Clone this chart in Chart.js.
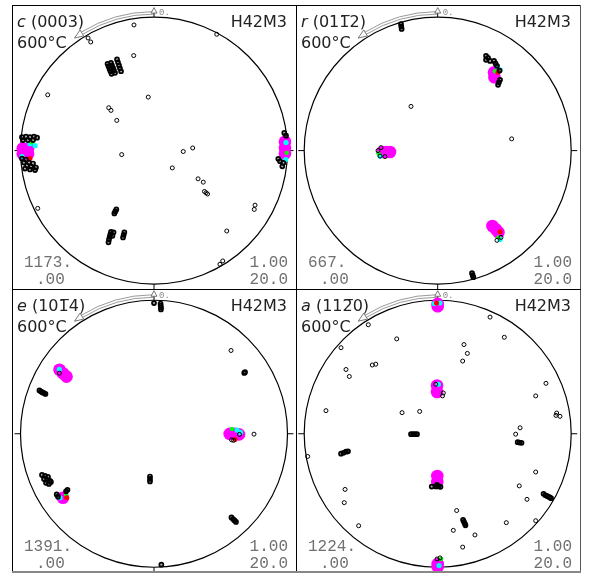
<!DOCTYPE html>
<html><head><meta charset="utf-8">
<script src="https://cdn.jsdelivr.net/npm/chart.js@4.4.1/dist/chart.umd.min.js"></script>
<style>
html,body{margin:0;padding:0;background:#fff;width:593px;height:578px;overflow:hidden}
#wrap{position:relative;width:593px;height:578px}
canvas{position:absolute}
.ln{position:absolute;background:#000}
</style></head><body>
<div id="wrap">
<canvas id="p0" width="284" height="284" style="left:12px;top:6px"></canvas>
<canvas id="p1" width="284" height="284" style="left:296px;top:6px"></canvas>
<canvas id="p2" width="284" height="282" style="left:12px;top:290px"></canvas>
<canvas id="p3" width="284" height="282" style="left:296px;top:290px"></canvas>
<div class="ln" style="left:12px;top:5px;width:569px;height:1px"></div>
<div class="ln" style="left:12px;top:5px;width:1px;height:568px"></div>
<div class="ln" style="left:296px;top:5px;width:1px;height:568px"></div>
<div class="ln" style="left:580px;top:5px;width:1px;height:568px;background:#555"></div>
<div class="ln" style="left:12px;top:289px;width:569px;height:1px"></div>
<div class="ln" style="left:12px;top:571px;width:569px;height:2px;background:#888"></div>
</div>
<script>
// ---- text ----
const planeLetters = ['c', 'r', 'e', 'a'];
const planeIndices = ['(0003)', '(011\u03052)', '(101\u03054)', '(112\u03050)'];
const sampleName = 'H42M3';
const tempLabel = '600°C';
const maxLabels = ['1173.', '667.', '1391.', '1224.'];
const minLabel = '.00';
const scaleTopLabel = '1.00';
const scaleBottomLabel = '20.0';
const azimuthLabel = '0.';

// ---- data: projected pole positions (unit circle) ----
const c0003Points = [
[-0.150,0.944],[0.470,0.874],[-0.494,0.846],[-0.474,0.816],[-0.152,0.714],
[-0.796,0.419],[-0.043,0.402],[-0.339,0.322],[-0.322,0.302],[-0.279,0.227],
[-0.242,-0.030],[0.219,-0.007],[0.290,0.020],[0.137,-0.130],[0.330,-0.212],
[0.369,-0.237],[0.378,-0.307],[0.390,-0.317],[0.401,-0.326],[0.757,-0.410],
[0.751,-0.442],[-0.871,-0.434],[0.545,-0.604],[0.515,-0.829],[0.494,-0.854]
];
const c0003Streaks = [
[-0.348,0.652],[-0.341,0.633],[-0.333,0.614],[-0.326,0.596],[-0.318,0.577],
[-0.322,0.659],[-0.315,0.640],[-0.307,0.622],[-0.300,0.603],[-0.292,0.584],
[-0.277,0.685],[-0.270,0.663],[-0.262,0.640],[-0.255,0.618],[-0.247,0.596],
[-0.282,-0.442],[-0.290,-0.457],[-0.297,-0.472],
[-0.322,-0.610],[-0.327,-0.629],[-0.332,-0.648],[-0.337,-0.667],[-0.341,-0.689],
[-0.303,-0.614],[-0.311,-0.640],
[-0.222,-0.614],[-0.227,-0.633],[-0.232,-0.652],
[-0.989,0.101],[-0.959,0.105],[-0.929,0.101],[-0.899,0.105],[-0.876,0.097],
[-0.981,0.079],[-0.944,0.079],[-0.906,0.079],
[-0.989,-0.060],[-0.959,-0.067],[-0.974,-0.090],[-0.936,-0.090],[-0.906,-0.097],
[-0.951,-0.112],[-0.921,-0.120],[-0.884,-0.127],[-0.966,-0.135],[-0.929,-0.142],[-0.891,-0.146],
[0.976,0.133],[0.989,0.112],[0.931,-0.062],[0.944,-0.080],[0.969,-0.092],[0.961,-0.118]
];
const c0003Magenta = [[-0.963,-0.004],[-0.983,0.016],[-0.943,0.016],[-0.983,-0.024],[-0.943,-0.024],[0.981,0.067],[0.981,0.022],[0.981,-0.022]];
const c0003Cyan = [[-0.929,0.052],[-0.989,-0.045],[-0.891,0.037],[0.989,0.060],[0.987,-0.067]];
const c0003Green = [[-0.916,0.062],[0.994,-0.017]];
const c0003Red = [[-0.929,-0.060]];

const r0112Points = [
[-0.200,0.332],[0.554,0.088],
[-0.447,0.000],[-0.425,0.022],[-0.432,-0.041],[-0.395,-0.045],
[0.474,-0.652],[0.444,-0.674]
];
const r0112Streaks = [
[-0.275,0.951],[-0.273,0.933],[-0.270,0.914],
[0.257,-0.921],[0.262,-0.936],[0.267,-0.951],
[0.362,0.712],[0.377,0.697],[0.362,0.682],[0.392,0.674],
[0.422,0.674],[0.433,0.655],[0.444,0.637],
[0.467,0.532],[0.459,0.513],[0.452,0.494],[0.464,0.601]
];
const r0112Magenta = [[0.422,0.588],[0.425,0.551],[-0.413,-0.011],[-0.387,-0.011],[-0.357,-0.011],[0.410,-0.566],[0.437,-0.592],[0.455,-0.614]];
const r0112Cyan = [[0.444,0.633],[0.467,0.607],[-0.432,-0.041],[0.467,-0.667]];
const r0112Green = [[0.429,0.596],[-0.443,-0.022],[0.455,-0.652]];
const r0112Red = [[0.452,0.588],[0.467,-0.610]];

const e1014Points = [
[0.577,0.631],[-0.709,0.459],
[0.640,-0.005],[0.581,-0.046],[0.596,-0.050],
[0.749,-0.003]
];
const e1014Streaks = [
[0.000,0.990],[0.049,0.987],[0.050,0.972],[0.052,0.957],[0.052,0.942],
[0.676,0.461],[0.682,0.467],
[-0.858,0.328],[-0.846,0.320],[-0.835,0.313],[-0.824,0.309],[-0.813,0.302],
[-0.839,-0.312],[-0.816,-0.320],[-0.794,-0.327],[-0.824,-0.342],[-0.801,-0.350],[-0.779,-0.357],[-0.809,-0.372],[-0.787,-0.380],[-0.772,-0.365],
[-0.030,-0.324],[-0.030,-0.342],[-0.030,-0.361],
[-0.729,-0.460],[-0.719,-0.477],[-0.659,-0.436],[-0.648,-0.425],
[0.580,-0.634],[0.592,-0.646],[0.603,-0.657],[0.614,-0.668],
[0.055,-0.992]
];
const e1014Magenta = [[-0.708,0.485],[-0.682,0.459],[-0.655,0.433],[0.567,-0.001],[0.607,-0.001],[0.637,-0.005],[-0.682,-0.485]];
const e1014Cyan = [[-0.709,0.489],[0.622,0.028],[0.648,0.010],[-0.704,-0.485]];
const e1014Green = [[0.584,0.036],[-0.659,-0.462]];
const e1014Red = [[0.607,-0.043],[-0.654,-0.485]];

const a1120Points = [
[0.392,0.884],[-0.520,0.826],[0.499,0.731],[-0.307,0.719],[-0.724,0.652],
[0.197,0.676],[0.222,0.609],[0.187,0.551],[-0.490,0.521],[-0.464,0.527],
[-0.687,0.487],[-0.662,0.434],[0.811,0.382],[0.734,0.287],[-0.837,0.175],
[-0.267,0.160],[-0.135,0.169],[0.891,0.157],[0.916,0.132],[0.886,0.139],
[0.617,0.045],[0.584,-0.003],
[-0.974,-0.172],[0.734,-0.290],[-0.694,-0.422],[0.611,-0.395],
[-0.700,-0.522],[0.669,-0.497],[0.142,-0.582],
[0.514,-0.674],[0.734,-0.659],[-0.592,-0.697],[0.117,-0.732],[0.279,-0.767],[0.187,-0.859],
[0.042,0.309],[0.036,0.287],[-0.015,0.375],
[0.017,-0.941],[-0.005,-0.949]
];
const a1120Streaks = [
[-0.200,-0.003],[-0.185,-0.003],[-0.170,-0.003],[-0.155,-0.003],
[0.599,-0.064],[0.613,-0.067],[0.628,-0.069],
[-0.724,-0.151],[-0.706,-0.144],[-0.687,-0.136],[-0.672,-0.133],
[0.793,-0.455],[0.807,-0.466],[0.822,-0.473],[0.837,-0.481],[0.849,-0.488],
[0.190,-0.653],[0.197,-0.668],[0.204,-0.683],[0.208,-0.694],
[-0.015,-0.399],[0.006,-0.399],[0.021,-0.402],[-0.045,-0.400],[-0.005,-0.387]
];
const a1120Magenta = [[0,0.966],[0,0.984],[-0.005,0.366],[-0.005,0.317],[-0.003,-0.320],[-0.003,-0.365],[0,-0.987],[0,-1.009]];
const a1120Cyan = [[0.017,0.991],[-0.025,0.987],[0.005,0.375],[0.010,-0.999]];
const a1120Green = [[0.025,-0.949]];
const a1120Red = [[-0.009,0.991]];

// ---- assemble ----
const panels = [
  {id:'p0', pts:c0003Points, str:c0003Streaks, mag:c0003Magenta, cyan:c0003Cyan, green:c0003Green, red:c0003Red, pad:{left:8.5,right:8.5,top:11.5,bottom:5.5}},
  {id:'p1', pts:r0112Points, str:r0112Streaks, mag:r0112Magenta, cyan:r0112Cyan, green:r0112Green, red:r0112Red, pad:{left:8.2,right:8.8,top:11.5,bottom:5.5}},
  {id:'p2', pts:e1014Points, str:e1014Streaks, mag:e1014Magenta, cyan:e1014Cyan, green:e1014Green, red:e1014Red, pad:{left:8.5,right:8.5,top:11.8,bottom:3.2}},
  {id:'p3', pts:a1120Points, str:a1120Streaks, mag:a1120Magenta, cyan:a1120Cyan, green:a1120Green, red:a1120Red, pad:{left:8.2,right:8.8,top:11.8,bottom:3.2}}
];

const stereoPlugin = {
  id: 'stereo',
  beforeDatasetsDraw(chart) {
    const ctx = chart.ctx, xs = chart.scales.x, ys = chart.scales.y;
    const cx = xs.getPixelForValue(0), cy = ys.getPixelForValue(0);
    const r = xs.getPixelForValue(1) - cx;
    ctx.save();
    ctx.strokeStyle = '#000'; ctx.lineWidth = 1.2;
    ctx.beginPath(); ctx.arc(cx, cy, r, 0, Math.PI * 2); ctx.stroke();
    ctx.lineWidth = 1;
    ctx.beginPath();
    ctx.moveTo(cx - r - 6, cy); ctx.lineTo(cx - r, cy);
    ctx.moveTo(cx + r, cy); ctx.lineTo(cx + r + 6, cy);
    ctx.moveTo(cx, cy + r); ctx.lineTo(cx, cy + r + 6);
    ctx.moveTo(cx, cy - r); ctx.lineTo(cx, cy - r - 4);
    ctx.stroke();
    // azimuth arc arrow
    const a0 = -Math.PI / 2, a1 = -Math.PI / 2 - 0.55;
    ctx.strokeStyle = '#555'; ctx.lineWidth = 0.6;
    ctx.beginPath(); ctx.arc(cx, cy, r + 3, a0, a1, true); ctx.stroke();
    ctx.beginPath(); ctx.arc(cx, cy, r + 5.5, a0 - 0.01, a1, true); ctx.stroke();
    const tipA = a1 - 0.065, rm = r + 4.3;
    ctx.lineWidth = 0.8;
    ctx.beginPath();
    ctx.moveTo(cx + rm * Math.cos(tipA), cy + rm * Math.sin(tipA));
    ctx.lineTo(cx + (r + 1) * Math.cos(a1), cy + (r + 1) * Math.sin(a1));
    ctx.lineTo(cx + (r + 8) * Math.cos(a1), cy + (r + 8) * Math.sin(a1));
    ctx.closePath();
    ctx.fillStyle = '#fff'; ctx.fill(); ctx.stroke();
    // north triangle
    ctx.beginPath();
    ctx.moveTo(cx, cy - r - 9.5);
    ctx.lineTo(cx - 3, cy - r - 4);
    ctx.lineTo(cx + 3, cy - r - 4);
    ctx.closePath();
    ctx.fill(); ctx.stroke();
    ctx.fillStyle = '#888';
    ctx.font = '9px "Liberation Mono"';
    ctx.textBaseline = 'alphabetic'; ctx.textAlign = 'left';
    ctx.fillText(azimuthLabel, cx + 5, cy - r - 2.5);
    ctx.restore();
  },
  afterDraw(chart) {
    const ctx = chart.ctx, i = chart.options.plugins.stereo.index;
    const W = chart.width;
    ctx.save();
    ctx.fillStyle = '#222'; ctx.textBaseline = 'alphabetic'; ctx.textAlign = 'left';
    ctx.font = 'italic 16px "DejaVu Sans"';
    ctx.fillText(planeLetters[i], 5, 21);
    const w = ctx.measureText(planeLetters[i]).width;
    ctx.font = '16px "DejaVu Sans"';
    ctx.fillText(' ' + planeIndices[i], 5 + w, 21);
    ctx.fillText(tempLabel, 5, 42);
    ctx.textAlign = 'right';
    ctx.fillText(sampleName, W - 9, 21);
    ctx.fillStyle = '#707070';
    ctx.font = '16px "Liberation Mono"';
    ctx.fillText(scaleTopLabel, W - 8, 261);
    ctx.fillText(scaleBottomLabel, W - 8, 278);
    ctx.textAlign = 'left';
    ctx.fillText(maxLabels[i], 12, 261);
    ctx.fillText(minLabel, 24, 278);
    ctx.restore();
  }
};

panels.forEach((p, i) => {
  new Chart(document.getElementById(p.id), {
    type: 'scatter',
    data: {
      datasets: [
        {label: 'poles', data: p.pts, pointRadius: 2, pointBorderWidth: 1, borderColor: '#000', backgroundColor: 'rgba(255,255,255,0)', clip: false},
        {label: 'pole clusters', data: p.str, pointRadius: 2, pointBorderWidth: 1.7, borderColor: '#000', backgroundColor: 'rgba(0,0,0,0.35)', clip: false},
        {label: 'red', data: p.red, pointRadius: 2.5, pointBorderWidth: 0, backgroundColor: '#ff0000', borderColor: '#ff0000', clip: false},
        {label: 'green', data: p.green, pointRadius: 2.2, pointBorderWidth: 0, backgroundColor: '#00ff00', borderColor: '#00ff00', clip: false},
        {label: 'cyan', data: p.cyan, pointRadius: 2.6, pointBorderWidth: 0, backgroundColor: '#00ffff', borderColor: '#00ffff', clip: false},
        {label: 'magenta', data: p.mag, pointRadius: 6.3, pointBorderWidth: 0, backgroundColor: '#ff00ff', borderColor: '#ff00ff', clip: false}
      ]
    },
    options: {
      responsive: false, animation: false, events: [],
      layout: {padding: p.pad},
      scales: {
        x: {type: 'linear', min: -1, max: 1, display: false},
        y: {type: 'linear', min: -1, max: 1, display: false}
      },
      plugins: {legend: {display: false}, tooltip: {enabled: false}, stereo: {index: i}}
    },
    plugins: [stereoPlugin]
  });
});
</script>
</body></html>
